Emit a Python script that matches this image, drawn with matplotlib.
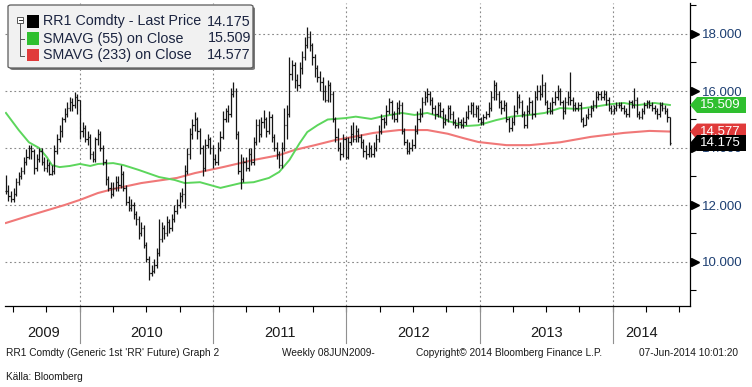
import matplotlib
matplotlib.use('Agg')
import matplotlib.pyplot as plt
import matplotlib.dates as mdates
import matplotlib.transforms as mtrans
from matplotlib.patches import Polygon, FancyBboxPatch, Rectangle
from matplotlib.collections import LineCollection
from matplotlib.lines import Line2D
import datetime as dt

# ---------------- data (weekly bars, RR1 Comdty) ----------------
first_week = dt.date(2009, 6, 12)

close = [
    12.5, 12.3, 12.2, 12.4, 12.8, 13.0, 13.2, 13.5, 13.7, 14.0,
    13.9, 13.3, 13.6, 13.9, 13.5, 13.3, 13.4, 13.1, 13.2, 13.9,
    14.3, 14.6, 15.0, 15.2, 15.4, 15.6, 15.5, 15.8, 15.7, 14.6,
    14.7, 14.3, 14.4, 13.8, 13.6, 14.3, 14.5, 14.0, 13.5, 12.9,
    12.6, 12.4, 12.6, 12.8, 12.7, 13.1, 12.6, 12.1, 11.9, 12.0,
    11.7, 11.5, 11.0, 11.2, 10.6, 10.1, 9.6, 9.7, 9.9, 10.3,
    10.8, 11.2, 11.0, 11.4, 11.2, 11.5, 11.8, 12.0, 12.3, 12.4,
    13.2, 13.8, 14.5, 14.8, 15.0, 14.6, 14.0, 13.3, 14.1, 14.3,
    14.0, 13.6, 13.5, 14.0, 14.4, 15.0, 15.3, 15.2, 15.9, 16.0,
    14.5, 13.2, 12.9, 13.5, 13.3, 13.8, 13.5, 14.2, 14.8, 14.5,
    14.9, 15.0, 14.6, 15.1, 14.4, 14.0, 13.8, 13.4, 14.0, 14.8,
    15.2, 16.6, 16.9, 16.4, 16.2, 16.8, 17.2, 17.6, 17.9, 17.6,
    17.2, 16.8, 16.5, 16.3, 16.0, 15.7, 16.2, 15.9, 15.0, 14.4,
    14.0, 13.8, 14.3, 13.7, 14.2, 14.5, 14.3, 14.6, 14.4, 14.2,
    13.9, 13.8, 14.0, 13.8, 14.0, 14.3, 14.6, 15.0, 14.9, 15.3,
    15.6, 15.2, 15.0, 15.4, 15.5, 14.6, 14.2, 13.9, 14.0, 14.1,
    14.6, 15.0, 15.2, 15.6, 15.8, 15.9, 15.7, 15.4, 15.2, 15.5,
    15.3, 14.9, 15.0, 15.4, 15.2, 14.9, 14.8, 14.9, 14.8, 14.9,
    15.1, 15.3, 15.5, 15.2, 15.4, 15.0, 14.9, 15.1, 15.2, 15.4,
    15.8, 16.2, 15.9, 15.6, 15.4, 15.5, 15.0, 14.7, 14.9, 15.3,
    15.8, 15.6, 15.2, 14.8, 15.3, 15.6, 15.2, 15.8, 16.0, 15.9,
    16.2, 15.6, 15.4, 15.3, 15.6, 15.8, 16.0, 15.6, 15.3, 15.6,
    15.8, 15.7, 15.5, 15.4, 15.5, 15.0, 14.8, 15.1, 15.2, 15.4,
    15.5, 15.8, 15.9, 15.8, 15.9, 15.7, 15.4, 15.3, 15.4, 15.5,
    15.5, 15.4, 15.3, 15.2, 15.6, 15.5, 15.7, 15.2, 15.1, 15.3,
    15.5, 15.6, 15.5, 15.4, 15.3, 15.2, 15.5, 15.4, 15.3, 15.1, 14.175]

high = [
    13.05, 12.7, 12.5, 12.6, 12.95, 13.15, 13.35, 13.7, 13.95, 14.1,
    14.1, 13.95, 13.8, 14.0, 14.0, 13.7, 13.6, 13.5, 13.4, 14.1,
    14.5, 14.8, 15.1, 15.4, 15.6, 15.8, 15.75, 15.96, 15.9, 15.7,
    14.9, 14.8, 14.6, 14.5, 13.9, 14.4, 14.65, 14.6, 14.1, 13.6,
    13.0, 12.8, 12.8, 13.0, 13.0, 13.4, 13.2, 12.7, 12.3, 12.2,
    12.1, 11.8, 11.6, 11.4, 11.3, 10.7, 10.2, 9.9, 10.1, 10.5,
    11.5, 11.4, 11.3, 11.6, 11.5, 11.7, 12.0, 12.2, 12.45, 12.6,
    13.4, 14.0, 14.7, 15.0, 15.26, 15.1, 14.7, 14.1, 14.3, 14.5,
    14.4, 14.1, 13.8, 14.2, 14.6, 15.3, 15.4, 15.5, 16.1, 16.3,
    16.1, 14.6, 13.8, 13.7, 13.7, 14.0, 14.0, 14.4, 15.0, 15.0,
    15.1, 15.33, 15.1, 15.3, 15.2, 14.5, 14.2, 13.9, 14.2, 15.4,
    15.5, 17.2, 17.1, 17.0, 16.6, 17.0, 17.4, 17.9, 18.25, 18.1,
    17.7, 17.3, 16.9, 16.7, 16.5, 16.2, 16.4, 16.3, 16.0, 15.1,
    14.7, 14.2, 14.5, 14.4, 14.4, 14.8, 14.9, 14.8, 14.7, 14.5,
    14.3, 14.1, 14.2, 14.1, 14.2, 14.5, 14.8, 15.2, 15.1, 15.5,
    15.75, 15.7, 15.3, 15.6, 15.7, 15.6, 14.7, 14.3, 14.2, 14.3,
    14.8, 15.3, 15.4, 15.8, 16.0, 16.1, 16.0, 15.8, 15.5, 15.6,
    15.6, 15.4, 15.2, 15.5, 15.5, 15.3, 15.0, 15.1, 15.0, 15.1,
    15.3, 15.5, 15.6, 15.6, 15.5, 15.5, 15.1, 15.2, 15.3, 15.6,
    16.0, 16.4, 16.3, 16.0, 15.7, 15.7, 15.6, 15.1, 15.1, 15.5,
    16.0, 15.9, 15.7, 15.3, 15.5, 15.8, 15.7, 16.0, 16.2, 16.2,
    16.6, 16.3, 15.7, 15.6, 15.8, 16.0, 16.2, 16.1, 15.7, 15.8,
    16.0, 16.67, 15.8, 15.6, 15.6, 15.6, 15.1, 15.2, 15.4, 15.5,
    15.7, 16.0, 16.0, 16.0, 16.05, 16.0, 15.8, 15.5, 15.5, 15.6,
    15.6, 15.6, 15.5, 15.4, 15.7, 15.7, 16.1, 15.8, 15.3, 15.4,
    15.6, 15.7, 15.7, 15.6, 15.5, 15.4, 15.6, 15.6, 15.5, 15.4, 15.1]

low = [
    12.4, 12.15, 12.1, 12.1, 12.3, 12.7, 12.9, 13.1, 13.4, 13.6,
    13.6, 13.1, 13.2, 13.5, 13.4, 13.2, 13.15, 13.05, 13.05, 13.1,
    13.8, 14.2, 14.4, 14.9, 15.1, 15.3, 15.3, 15.4, 15.2, 14.3,
    14.4, 14.2, 14.1, 13.6, 13.5, 13.5, 14.1, 13.9, 13.4, 12.7,
    12.5, 12.25, 12.3, 12.5, 12.5, 12.6, 12.5, 12.0, 11.8, 11.8,
    11.5, 11.3, 10.8, 10.9, 10.5, 10.0, 9.37, 9.5, 9.6, 9.8,
    10.2, 10.7, 10.8, 10.9, 11.0, 11.1, 11.4, 11.7, 11.9, 12.1,
    11.9, 13.1, 13.6, 14.3, 14.6, 14.3, 13.8, 13.0, 13.2, 14.0,
    13.8, 13.3, 13.4, 13.4, 13.9, 14.3, 14.9, 14.9, 15.1, 15.8,
    14.3, 13.1, 12.55, 12.8, 13.2, 13.2, 13.4, 13.4, 14.1, 14.2,
    14.4, 14.7, 14.4, 14.5, 14.2, 13.9, 13.6, 13.3, 13.3, 13.9,
    14.3, 15.1, 16.4, 16.1, 16.0, 16.1, 16.6, 17.1, 17.5, 17.4,
    16.9, 16.5, 16.3, 16.0, 15.7, 15.6, 15.6, 15.6, 14.9, 14.2,
    13.9, 13.58, 13.7, 13.6, 13.6, 14.1, 14.2, 14.2, 14.2, 14.0,
    13.7, 13.6, 13.7, 13.7, 13.7, 13.9, 14.2, 14.5, 14.7, 14.8,
    15.2, 15.0, 14.9, 14.9, 15.2, 14.5, 14.1, 13.8, 13.8, 13.9,
    14.0, 14.5, 14.9, 15.1, 15.5, 15.6, 15.5, 15.2, 15.0, 15.1,
    15.1, 14.7, 14.8, 14.9, 15.0, 14.8, 14.7, 14.7, 14.7, 14.7,
    14.8, 15.0, 15.2, 15.1, 15.1, 14.9, 14.8, 14.8, 15.0, 15.1,
    15.3, 15.7, 15.7, 15.4, 15.2, 15.3, 14.9, 14.55, 14.6, 14.8,
    15.2, 15.4, 15.1, 14.7, 14.7, 15.2, 15.0, 15.1, 15.7, 15.7,
    15.8, 15.5, 15.2, 15.2, 15.2, 15.5, 15.7, 15.5, 15.0, 15.2,
    15.5, 15.5, 15.3, 15.3, 15.3, 14.9, 14.75, 14.8, 15.0, 15.1,
    15.3, 15.4, 15.7, 15.7, 15.7, 15.5, 15.3, 15.2, 15.2, 15.3,
    15.4, 15.3, 15.2, 15.1, 15.1, 15.4, 15.4, 15.1, 15.0, 15.0,
    15.2, 15.4, 15.4, 15.3, 15.2, 15.0, 15.1, 15.3, 15.2, 14.9, 14.1]

# moving averages (week index, value)
sma55_week = [0, 5, 9, 13, 16, 18, 21, 25, 29, 33, 36, 42, 46, 52, 60, 66, 70, 76, 80, 84,
              92, 97, 103, 107, 111, 115, 118, 122, 126, 133, 137, 143, 148, 155, 160, 165,
              170, 173, 180, 185, 192, 198, 205, 211, 217, 224, 232, 237, 242, 247, 254, 260]
sma55_val = [15.23, 14.63, 14.2, 14.0, 13.68, 13.4, 13.33, 13.37, 13.44, 13.37, 13.44, 13.47,
             13.4, 13.23, 12.98, 12.88, 12.77, 12.8, 12.7, 12.6, 12.77, 12.8, 12.95, 13.16,
             13.58, 14.17, 14.56, 14.8, 15.0, 15.05, 15.1, 15.02, 15.12, 15.23, 15.16, 15.23,
             15.1, 14.95, 14.77, 14.8, 14.98, 15.1, 15.16, 15.23, 15.4, 15.37, 15.47, 15.54,
             15.58, 15.5, 15.58, 15.509]
sma233_week = [0, 10, 23, 29, 36, 42, 53, 67, 74, 85, 97, 107, 113, 121, 129, 136, 144, 154,
               165, 173, 179, 185, 196, 205, 217, 229, 242, 252, 260]
sma233_val = [11.37, 11.65, 12.0, 12.18, 12.42, 12.56, 12.77, 12.95, 13.12, 13.33, 13.58,
              13.75, 13.93, 14.1, 14.28, 14.39, 14.53, 14.63, 14.63, 14.5, 14.35, 14.21, 14.1,
              14.1, 14.2, 14.39, 14.53, 14.6, 14.577]

legend_names = ["RR1 Comdty - Last Price", "SMAVG (55) on Close", "SMAVG (233) on Close"]
legend_values = ["14.175", "15.509", "14.577"]
y_major = [10, 12, 14, 16, 18]
y_minor = [9, 11, 13, 15, 17, 19]
years = [2009, 2010, 2011, 2012, 2013, 2014]

# ---------------- figure ----------------
W, H = 752, 387
fig = plt.figure(figsize=(W / 100, H / 100), dpi=100)
fig.patch.set_facecolor('white')
FONT = ['Liberation Sans', 'DejaVu Sans']
NARROW = ['Liberation Sans Narrow', 'Liberation Sans', 'DejaVu Sans']
plt.rcParams['font.family'] = FONT

ax_l, ax_r, ax_t, ax_b = 5, 690, 3, 306
ax = fig.add_axes([ax_l / W, 1 - ax_b / H, (ax_r - ax_l) / W, (ax_b - ax_t) / H])
ax.set_facecolor('white')

def px2fig(px, py):
    return (px / W, 1 - py / H)

# x scale: Jan 1 2010 at px 80, Jan 1 2014 at px 613
d2010 = mdates.date2num(dt.date(2010, 1, 1))
d2014 = mdates.date2num(dt.date(2014, 1, 1))
ppd = (613 - 80) / (d2014 - d2010)
xmin = d2010 - (80 - ax_l) / ppd
xmax = d2014 + (ax_r - 613) / ppd
ymax = 18 + (34 - ax_t) / 28.5
ymin = 18 - (ax_b - 34) / 28.5
ax.set_xlim(xmin, xmax)
ax.set_ylim(ymin, ymax)

xd = [mdates.date2num(first_week + dt.timedelta(weeks=i)) for i in range(len(close))]

# grid
grid_kw = dict(color='#8a8a8a', lw=0.8, linestyle=(0, (1.6, 2.4)), zorder=1)
for v in y_major:
    ax.axhline(v, **grid_kw)
for yr in range(2010, 2015):
    ax.axvline(mdates.date2num(dt.date(yr, 1, 1)), **grid_kw)

# moving averages
ax.plot([xd[i] for i in sma233_week], sma233_val, color='#f07878', lw=1.5, zorder=2,
        solid_joinstyle='round')
ax.plot([xd[i] for i in sma55_week], sma55_val, color='#5cd65c', lw=1.4, zorder=2,
        solid_joinstyle='round')

# OHLC bars
tick = 1.2 / ppd
segs = []
for i in range(len(close)):
    o = close[i - 1] if i > 0 else close[i]
    segs.append([(xd[i], low[i]), (xd[i], high[i])])
    segs.append([(xd[i] - tick, o), (xd[i], o)])
    segs.append([(xd[i], close[i]), (xd[i] + tick, close[i])])
ax.add_collection(LineCollection(segs, colors='#151515', linewidths=0.9, zorder=3))

# spines
for s in ['top', 'left']:
    ax.spines[s].set_visible(False)
ax.spines['bottom'].set_color('black')
ax.spines['right'].set_color('black')
ax.spines['bottom'].set_linewidth(0.9)
ax.spines['right'].set_linewidth(0.9)

# x ticks: quarterly minor ticks, no labels
ax.set_xticks([])
qt = []
for yr in range(2009, 2015):
    for m in (1, 4, 7, 10):
        d = mdates.date2num(dt.date(yr, m, 1))
        if xmin < d < xmax:
            qt.append(d)
ax.set_xticks(qt, minor=True)
ax.tick_params(axis='x', which='minor', direction='out', length=4, width=0.8, color='black')

# y axis on the right
ax.yaxis.set_ticks_position('right')
ax.set_yticks(y_major)
ax.set_yticklabels(['%.3f' % v for v in y_major])
ax.set_yticks(y_minor, minor=True)
ax.tick_params(axis='y', which='major', length=0, pad=8.5, labelsize=9.5,
               labelcolor='#1d3f72')
ax.tick_params(axis='y', which='minor', direction='out', length=4, width=0.8, color='black')
tri_tr = mtrans.blended_transform_factory(ax.transAxes, ax.transData)
ax.plot([1 + 4.5 / (ax_r - ax_l)] * len(y_major), y_major, ls='none', marker='>', ms=5.5,
        color='black', transform=tri_tr, clip_on=False, zorder=5)

# year separators and labels below the axis
sep_tr = mtrans.blended_transform_factory(ax.transData, ax.transAxes)
hpx = ax_b - ax_t
for yr in range(2010, 2015):
    d = mdates.date2num(dt.date(yr, 1, 1))
    ax.add_line(Line2D([d, d], [0, -(343 - ax_b) / hpx], transform=sep_tr, color='#909090',
                       lw=0.8, clip_on=False))
label_pos = {2009: dt.date(2009, 9, 22), 2010: dt.date(2010, 7, 2), 2011: dt.date(2011, 7, 2),
             2012: dt.date(2012, 7, 2), 2013: dt.date(2013, 7, 2), 2014: dt.date(2014, 3, 20)}
for yr in years:
    ax.text(mdates.date2num(label_pos[yr]), -(333 - ax_b) / hpx, str(yr), transform=sep_tr,
            ha='center', va='center', fontsize=10.5, color='#1a1a1a', family=NARROW)

# right-side value tags (black tag drawn last so it covers the red one, as in the original)
def ypx(v):
    return ax_t + (ymax - v) / (ymax - ymin) * (ax_b - ax_t)

tag_colors = {14.577: '#e03a3a', 15.509: '#2fbf2f', 14.175: '#000000'}
for k, v in enumerate([15.509, 14.577, 14.175]):
    c = ypx(v)
    z = 10 + 2 * k
    pts = [px2fig(690, c), px2fig(697, c - 8), px2fig(746, c - 8), px2fig(746, c + 8),
           px2fig(697, c + 8)]
    fig.patches.append(Polygon(pts, closed=True, transform=fig.transFigure,
                               facecolor=tag_colors[v], edgecolor='none', zorder=z))
    x0, y0 = px2fig(700, c)
    fig.text(x0, y0, '%.3f' % v, color='white', fontsize=9.5, ha='left', va='center',
             zorder=z + 1)

# legend box
lx0, ly0, lx1, ly1 = 8, 5, 253, 68
sx, sy = px2fig(lx0 + 2, ly1 + 2)
fig.patches.append(FancyBboxPatch((sx, sy), (lx1 - lx0) / W, (ly1 - ly0) / H,
                                  boxstyle='round,pad=0,rounding_size=0.004',
                                  transform=fig.transFigure, facecolor='#7a7a7a',
                                  edgecolor='none', zorder=8))
bx, by = px2fig(lx0, ly1)
fig.patches.append(FancyBboxPatch((bx, by), (lx1 - lx0) / W, (ly1 - ly0) / H,
                                  boxstyle='round,pad=0,rounding_size=0.004',
                                  transform=fig.transFigure, facecolor='#f1f1f1',
                                  edgecolor='#5a5a5a', lw=0.9, zorder=9))
# tree glyph
gx, gy = px2fig(17, 23)
fig.patches.append(Rectangle((gx, gy), 6 / W, 6 / H, transform=fig.transFigure,
                             facecolor='white', edgecolor='#555555', lw=0.7, zorder=10))
fig.add_artist(Line2D([18.5 / W, 21.5 / W], [1 - 20 / H] * 2, color='#333333', lw=0.7,
                      zorder=11))
fig.add_artist(Line2D([20 / W, 20 / W, 24 / W], [1 - 23 / H, 1 - 56 / H, 1 - 56 / H],
                      color='#555555', lw=0.7, zorder=10))
fig.add_artist(Line2D([20 / W, 24 / W], [1 - 39 / H] * 2, color='#555555', lw=0.7, zorder=10))

rows_y = [21.5, 38.5, 55]
sq_colors = ['#000000', '#2fbf2f', '#e03a3a']
for k in range(3):
    yc = rows_y[k]
    qx, qy = px2fig(27, yc + 6)
    fig.patches.append(Rectangle((qx, qy), 12 / W, 12 / H, transform=fig.transFigure,
                                 facecolor=sq_colors[k], edgecolor='none', zorder=10))
    tx, ty = px2fig(43, yc)
    fig.text(tx, ty, legend_names[k], fontsize=10.3, color='#1b2440', ha='left', va='center',
             zorder=11)
    vx, vy = px2fig(251, yc)
    fig.text(vx, vy, legend_values[k], fontsize=10.3, color='#1b2440', ha='right', va='center',
             zorder=11)

# footer texts
foot_kw = dict(fontsize=7.3, color='#1a1a1a', va='center', family=NARROW)
fig.text(*px2fig(6, 353), "RR1 Comdty (Generic 1st 'RR' Future) Graph 2", ha='left', **foot_kw)
fig.text(*px2fig(282, 353), "Weekly 08JUN2009-", ha='left', **foot_kw)
fig.text(*px2fig(416, 353), "Copyright\u00a9 2014 Bloomberg Finance L.P.", ha='left', **foot_kw)
fig.text(*px2fig(738, 353), "07-Jun-2014 10:01:20", ha='right', **foot_kw)
fig.text(*px2fig(6, 377), "K\u00e4lla: Bloomberg", ha='left', **foot_kw)

fig.savefig('out.png', dpi=100, facecolor='white')
